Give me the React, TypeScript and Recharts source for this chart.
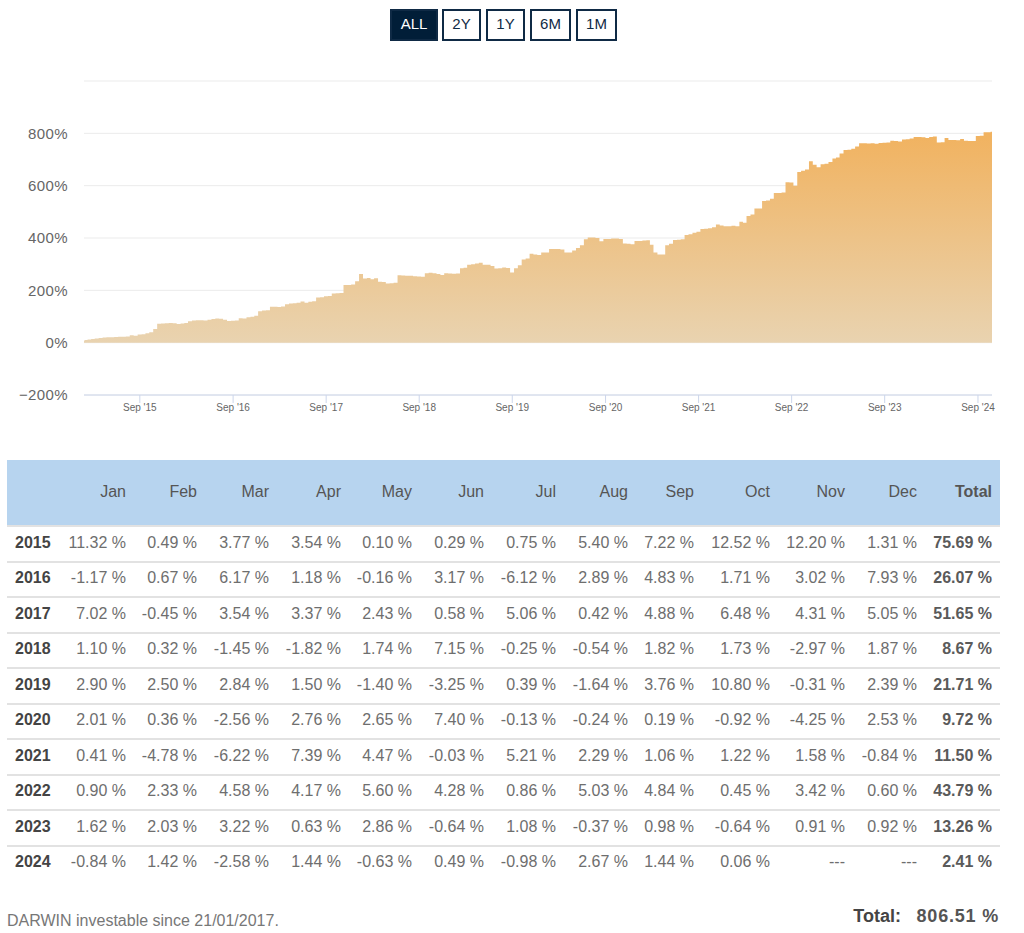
import { AreaChart, Area, XAxis, YAxis, CartesianGrid } from 'recharts'

// cumulative return in %, one reading per half month (1st and 15th)
const cum2015 = [10, 12, 14, 16, 18, 20, 21, 21, 22, 23, 23, 24, 28, 26, 31, 32, 36, 40, 52, 72, 73, 74] // from Feb
const cum2016 = [75, 74, 71, 73, 75, 82, 85, 86, 86, 85, 88, 90, 92, 91, 88, 83, 84, 85, 93, 92, 97, 99, 103, 120]
const cum2017 = [123, 124, 137, 137, 136, 138, 147, 150, 151, 153, 157, 153, 156, 158, 173, 174, 177, 178, 188, 189, 190, 220, 220, 222]
const cum2018 = [235, 262, 245, 247, 242, 246, 233, 232, 226, 227, 229, 258, 257, 256, 256, 254, 253, 252, 265, 267, 265, 262, 259, 265]
const cum2019 = [264, 263, 264, 284, 286, 298, 300, 303, 305, 298, 298, 293, 283, 284, 287, 285, 268, 284, 296, 318, 322, 340, 337, 335]
const cum2020 = [345, 345, 358, 358, 358, 356, 345, 345, 352, 362, 372, 395, 402, 402, 400, 388, 396, 396, 398, 398, 396, 379, 378, 376]
const cum2021 = [389, 389, 390, 391, 374, 345, 337, 337, 372, 378, 392, 393, 395, 411, 414, 420, 424, 434, 435, 437, 441, 452, 448, 445]
const cum2022 = [445, 447, 445, 462, 458, 484, 490, 513, 513, 541, 543, 550, 572, 572, 574, 613, 612, 600, 652, 657, 662, 693, 680, 670]
const cum2023 = [682, 684, 690, 704, 708, 723, 736, 737, 741, 750, 762, 762, 761, 762, 760, 763, 764, 765, 772, 771, 769, 776, 777, 780]
const cum2024 = [786, 786, 785, 782, 786, 788, 765, 766, 782, 775, 775, 774, 778, 772, 771, 771, 790, 791, 804, 804] // to mid Oct

const firstDay = Date.UTC(2015, 0, 25)
const lastDay = Date.UTC(2024, 9, 26)
const firstValue = 8
const lastValue = 806.51

const yTicks = [-200, 0, 200, 400, 600, 800, 1000]
const tickYears = [2015, 2016, 2017, 2018, 2019, 2020, 2021, 2022, 2023, 2024]
const rangeButtons = ['ALL', '2Y', '1Y', '6M', '1M']

const months = ['Jan', 'Feb', 'Mar', 'Apr', 'May', 'Jun', 'Jul', 'Aug', 'Sep', 'Oct', 'Nov', 'Dec']
const years = ['2015', '2016', '2017', '2018', '2019', '2020', '2021', '2022', '2023', '2024']
const ret2015 = ['11.32 %', '0.49 %', '3.77 %', '3.54 %', '0.10 %', '0.29 %', '0.75 %', '5.40 %', '7.22 %', '12.52 %', '12.20 %', '1.31 %', '75.69 %']
const ret2016 = ['-1.17 %', '0.67 %', '6.17 %', '1.18 %', '-0.16 %', '3.17 %', '-6.12 %', '2.89 %', '4.83 %', '1.71 %', '3.02 %', '7.93 %', '26.07 %']
const ret2017 = ['7.02 %', '-0.45 %', '3.54 %', '3.37 %', '2.43 %', '0.58 %', '5.06 %', '0.42 %', '4.88 %', '6.48 %', '4.31 %', '5.05 %', '51.65 %']
const ret2018 = ['1.10 %', '0.32 %', '-1.45 %', '-1.82 %', '1.74 %', '7.15 %', '-0.25 %', '-0.54 %', '1.82 %', '1.73 %', '-2.97 %', '1.87 %', '8.67 %']
const ret2019 = ['2.90 %', '2.50 %', '2.84 %', '1.50 %', '-1.40 %', '-3.25 %', '0.39 %', '-1.64 %', '3.76 %', '10.80 %', '-0.31 %', '2.39 %', '21.71 %']
const ret2020 = ['2.01 %', '0.36 %', '-2.56 %', '2.76 %', '2.65 %', '7.40 %', '-0.13 %', '-0.24 %', '0.19 %', '-0.92 %', '-4.25 %', '2.53 %', '9.72 %']
const ret2021 = ['0.41 %', '-4.78 %', '-6.22 %', '7.39 %', '4.47 %', '-0.03 %', '5.21 %', '2.29 %', '1.06 %', '1.22 %', '1.58 %', '-0.84 %', '11.50 %']
const ret2022 = ['0.90 %', '2.33 %', '4.58 %', '4.17 %', '5.60 %', '4.28 %', '0.86 %', '5.03 %', '4.84 %', '0.45 %', '3.42 %', '0.60 %', '43.79 %']
const ret2023 = ['1.62 %', '2.03 %', '3.22 %', '0.63 %', '2.86 %', '-0.64 %', '1.08 %', '-0.37 %', '0.98 %', '-0.64 %', '0.91 %', '0.92 %', '13.26 %']
const ret2024 = ['-0.84 %', '1.42 %', '-2.58 %', '1.44 %', '-0.63 %', '0.49 %', '-0.98 %', '2.67 %', '1.44 %', '0.06 %', '---', '---', '2.41 %']
const returns = [ret2015, ret2016, ret2017, ret2018, ret2019, ret2020, ret2021, ret2022, ret2023, ret2024]

const halfMonths = (year: number, values: number[], skip = 0) =>
  values.map((value, n) => {
    const i = n + skip
    return { date: Date.UTC(year, Math.floor(i / 2), i % 2 ? 15 : 1), value }
  })

const chartData = [
  { date: firstDay, value: firstValue },
  ...halfMonths(2015, cum2015, 2),
  ...halfMonths(2016, cum2016),
  ...halfMonths(2017, cum2017),
  ...halfMonths(2018, cum2018),
  ...halfMonths(2019, cum2019),
  ...halfMonths(2020, cum2020),
  ...halfMonths(2021, cum2021),
  ...halfMonths(2022, cum2022),
  ...halfMonths(2023, cum2023),
  ...halfMonths(2024, cum2024),
  { date: lastDay, value: lastValue },
]

const xTicks = tickYears.map((y) => Date.UTC(y, 8, 1))
const formatX = (v: number) => `Sep '${String(new Date(v).getUTCFullYear()).slice(2)}`
const formatY = (v: number) => `${v < 0 ? '\u2212' : ''}${Math.abs(v)}%`

const font = '"Liberation Sans", Arial, sans-serif'
const navy = '#0f2a45'

// right edge of each table column
const colRight = [126, 197, 269, 341, 412, 484, 556, 628, 694, 770, 845, 917, 992]
const buttonBox = [
  { left: 390, width: 48 },
  { left: 442, width: 39 },
  { left: 486, width: 39 },
  { left: 530, width: 41 },
  { left: 576, width: 41 },
]

const Cell = ({ right, top, bold, color, size = 16, spacing = 0, children }: any) => (
  <div
    style={{
      position: 'absolute',
      right: 1024 - right,
      top,
      height: 20,
      lineHeight: '20px',
      whiteSpace: 'nowrap',
      fontSize: size,
      letterSpacing: spacing,
      fontWeight: bold ? 700 : 400,
      color: color ?? '#6e6e6e',
    }}
  >
    {children}
  </div>
)

export default function App() {
  return (
    <div style={{ position: 'absolute', left: 0, top: 0, width: 1024, height: 933, background: '#fff', fontFamily: font, overflow: 'hidden' }}>
      {rangeButtons.map((label, i) => (
        <div
          key={label}
          style={{
            position: 'absolute',
            left: buttonBox[i].left,
            top: 9,
            width: buttonBox[i].width,
            height: 32,
            boxSizing: 'border-box',
            border: `2px solid ${navy}`,
            background: i === 0 ? '#011e38' : '#fff',
            color: i === 0 ? '#fff' : navy,
            fontSize: 15,
            lineHeight: '25px',
            textAlign: 'center',
          }}
        >
          {label}
        </div>
      ))}

      <div style={{ position: 'absolute', left: 0, top: 0 }}>
        <AreaChart width={1024} height={440} data={chartData} margin={{ top: 81, right: 32, left: 0, bottom: 0 }}>
          <defs>
            <linearGradient id="fillEquity" x1="0" y1="0" x2="0" y2="1">
              <stop offset="0%" stopColor="#f1b25f" />
              <stop offset="100%" stopColor="#e9d3b0" />
            </linearGradient>
          </defs>
          <CartesianGrid vertical={false} stroke="#ebebeb" />
          <XAxis
            dataKey="date"
            type="number"
            scale="time"
            domain={[firstDay, lastDay]}
            ticks={xTicks}
            tickFormatter={formatX}
            height={45}
            interval={0}
            tickSize={8}
            tickMargin={1}
            stroke="#ccd6eb"
            tick={{ fontSize: 10, fill: '#666', fontFamily: font }}
          />
          <YAxis
            domain={[-200, 1000]}
            ticks={yTicks.slice(0, 6)}
            tickFormatter={formatY}
            width={84}
            interval={0}
            axisLine={false}
            tickLine={false}
            tickMargin={10}
            tick={{ fontSize: 15, fill: '#666', fontFamily: font, letterSpacing: 0.4 }}
          />
          <Area
            type="step"
            dataKey="value"
            baseValue={0}
            stroke="none"
            fill="url(#fillEquity)"
            fillOpacity={1}
            dot={false}
            activeDot={false}
            isAnimationActive={false}
          />
        </AreaChart>
      </div>

      <div style={{ position: 'absolute', left: 7, top: 460, width: 993, height: 65, background: '#b7d4ef' }} />
      {months.concat('Total').map((m, c) => (
        <Cell key={m} right={colRight[c]} top={482} bold={m === 'Total'} color="#555">
          {m}
        </Cell>
      ))}
      {years.map((year, r) => {
        const top = 532.5 + r * 35.5
        return (
          <div key={year}>
            <div style={{ position: 'absolute', left: 7, top: top - 7.5, width: 993, height: 2, background: '#e2e2e2' }} />
            <div style={{ position: 'absolute', left: 15, top, height: 20, lineHeight: '20px', fontSize: 16, fontWeight: 700, color: '#444' }}>{year}</div>
            {returns[r].map((v, c) => (
              <Cell key={c} right={colRight[c]} top={top} bold={c === 12} color={c === 12 ? '#5a5a5a' : undefined}>
                {v}
              </Cell>
            ))}
          </div>
        )
      })}

      <div style={{ position: 'absolute', left: 7, top: 911, lineHeight: '20px', fontSize: 16, color: '#777' }}>DARWIN investable since 21/01/2017.</div>
      <Cell right={901} top={906} bold color="#444" size={18}>Total:</Cell>
      <Cell right={999} top={906} bold color="#555" size={18} spacing={0.8}>806.51 %</Cell>
    </div>
  )
}
